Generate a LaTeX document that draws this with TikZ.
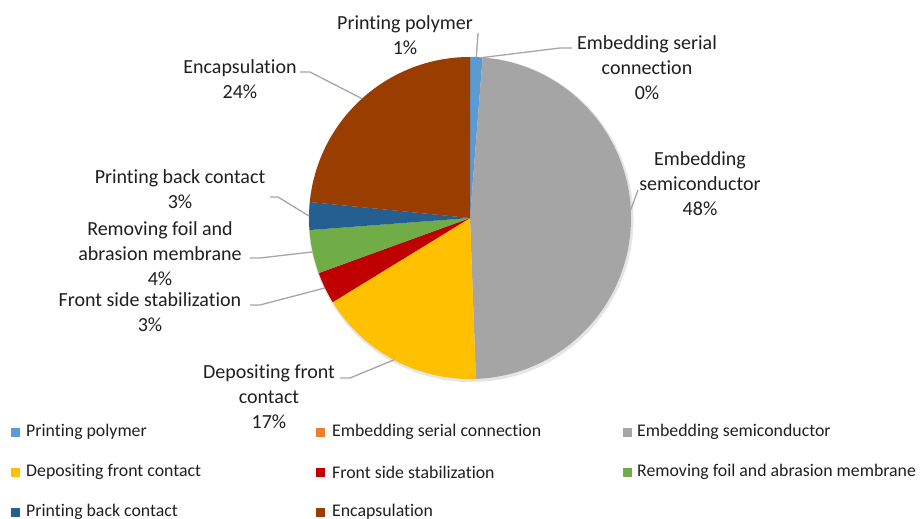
\documentclass[tikz,border=0pt]{standalone}
\usepackage{fontspec}
\setmainfont{Carlito}[Ligatures=NoCommon]
\usepackage{tikz}
\usetikzlibrary{calc}

\definecolor{cPoly}{HTML}{5B9BD5}
\definecolor{cSerial}{HTML}{ED7D31}
\definecolor{cSemi}{HTML}{A5A5A5}
\definecolor{cFront}{HTML}{FFC000}
\definecolor{cStab}{HTML}{C00000}
\definecolor{cFoil}{HTML}{70AD47}
\definecolor{cBack}{HTML}{255E91}
\definecolor{cEncap}{HTML}{993D00}

\tikzset{
	lbl/.style={align=center, inner sep=0pt, text=black!88, font=\fontsize{20}{25}\selectfont},
	leg/.style={anchor=west, inner sep=0pt, text=black!88, font=\fontsize{17.8}{20}\selectfont},
	key/.style={fill=#1, minimum size=9pt, inner sep=0pt},
	leader/.style={draw=black!35, line width=1.3pt},
}

\begin{document}
\begin{tikzpicture}[x=1pt,y=-1pt]
			\useasboundingbox (0,0) rectangle (921,519);
			\coordinate (c) at (470,218);
			% pie
			\fill[black!10] (471,219.5) circle[radius=162.5];
			\fill[cPoly] (c) -- ++(-90:161) arc[start angle=-90, end angle=-85.5, radius=161] -- cycle;
			\fill[cSemi] (c) -- ++(-85.5:161) arc[start angle=-85.5, end angle=87.9, radius=161] -- cycle;
			\fill[cFront] (c) -- ++(87.9:161) arc[start angle=87.9, end angle=148.5, radius=161] -- cycle;
			\fill[cStab] (c) -- ++(148.5:161) arc[start angle=148.5, end angle=160, radius=161] -- cycle;
			\fill[cFoil] (c) -- ++(160:161) arc[start angle=160, end angle=175.7, radius=161] -- cycle;
			\fill[cBack] (c) -- ++(175.7:161) arc[start angle=175.7, end angle=185.7, radius=161] -- cycle;
			\fill[cEncap] (c) -- ++(185.7:161) arc[start angle=185.7, end angle=270, radius=161] -- cycle;
			\coordinate (m-pp) at ($(c)+(-87.75:161)$);
			\coordinate (m-es) at ($(c)+(-85.5:161)$);
			\coordinate (m-sc) at ($(c)+(-3:161)$);
			\coordinate (m-df) at ($(c)+(118.2:161)$);
			\coordinate (m-fs) at ($(c)+(154.25:161)$);
			\coordinate (m-rf) at ($(c)+(167.85:161)$);
			\coordinate (m-pb) at ($(c)+(180.7:161)$);
			\coordinate (m-en) at ($(c)+(227.85:161)$);
			% data labels
			\node[lbl] (pp) at (405,35) {Printing polymer\\1\%};
			\node[lbl] (es) at (647,68) {Embedding serial\\connection\\0\%};
			\node[lbl] (sc) at (700,184) {Embedding\\semiconductor\\48\%};
			\node[lbl] (df) at (269,397) {Depositing front\\contact\\17\%};
			\node[lbl] (fs) at (150,312) {Front side stabilization\\3\%};
			\node[lbl] (rf) at (160,254) {Removing foil and\\abrasion membrane\\4\%};
			\node[lbl] (pb) at (180,189) {Printing back contact\\3\%};
			\node[lbl] (en) at (240,79) {Encapsulation\\24\%};
			% leader lines
			\coordinate (k-pp) at (478,33);
			\coordinate (k-es) at (572,48);
			\coordinate (k-sc) at (638,190);
			\coordinate (k-df) at (340,378);
			\coordinate (k-fs) at (250,305);
			\coordinate (k-rf) at (250,258);
			\coordinate (k-pb) at (270,197);
			\coordinate (k-en) at (300,72);
			\draw[leader] (m-pp) -- (k-pp);
			\draw[leader] (m-es) -- (560,48) -- (k-es);
			\draw[leader] (m-sc) -- (k-sc);
			\draw[leader] (m-df) -- (350,378) -- (k-df);
			\draw[leader] (m-fs) -- (260,305) -- (k-fs);
			\draw[leader] (m-rf) -- (260,258) -- (k-rf);
			\draw[leader] (m-pb) -- (278,197) -- (k-pb);
			\draw[leader] (m-en) -- (310,72) -- (k-en);
			% legend
			\node[key=cPoly] (k1) at (15,432) {};
			\node[leg] (l1) at (26,432) {Printing polymer};
			\node[key=cSerial] (k2) at (320,432) {};
			\node[leg] (l2) at (332,432) {Embedding serial connection};
			\node[key=cSemi] (k3) at (627,432) {};
			\node[leg] (l3) at (637,432) {Embedding semiconductor};
			\node[key=cFront] (k4) at (15,472) {};
			\node[leg] (l4) at (26,472) {Depositing front contact};
			\node[key=cStab] (k5) at (320,472) {};
			\node[leg] (l5) at (332,472) {Front side stabilization};
			\node[key=cFoil] (k6) at (627,472) {};
			\node[leg] (l6) at (637,472) {Removing foil and abrasion membrane};
			\node[key=cBack] (k7) at (15,512) {};
			\node[leg] (l7) at (26,512) {Printing back contact};
			\node[key=cEncap] (k8) at (320,512) {};
			\node[leg] (l8) at (332,512) {Encapsulation};
		\end{tikzpicture}
\end{document}
